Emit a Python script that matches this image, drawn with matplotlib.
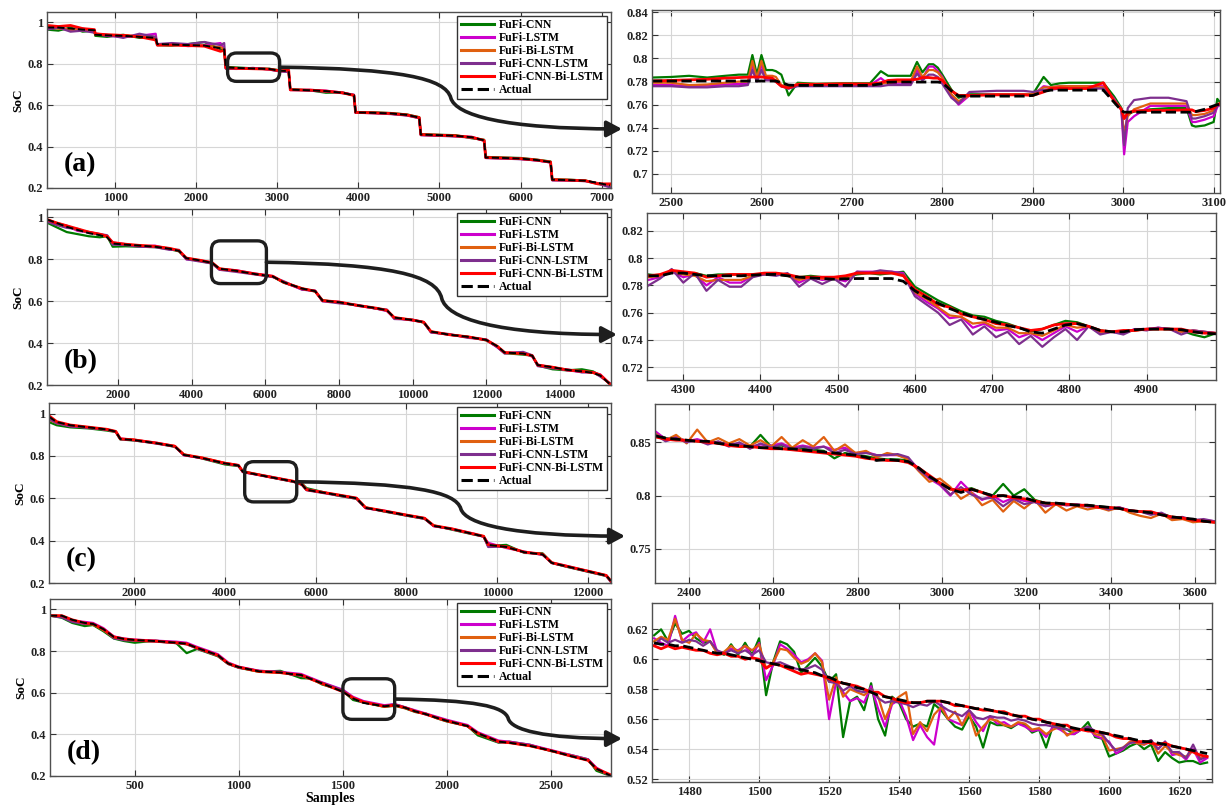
import matplotlib
matplotlib.use('Agg')
import matplotlib.pyplot as plt
from matplotlib.path import Path
from matplotlib.patches import FancyArrowPatch, FancyBboxPatch
from matplotlib.transforms import IdentityTransform
from matplotlib.ticker import FuncFormatter

plt.rcParams['font.family'] = ['Liberation Serif', 'DejaVu Serif']
plt.rcParams['font.weight'] = 'bold'

# ---------------- series names / colours ----------------
series_names = ['FuFi-CNN', 'FuFi-LSTM', 'FuFi-Bi-LSTM', 'FuFi-CNN-LSTM', 'FuFi-CNN-Bi-LSTM']
series_colors = ['#007a00', '#cc00cc', '#e06010', '#7e2f8e', '#ff0000']
panel_labels = ['(a)', '(b)', '(c)', '(d)']

# ================= LEFT PANELS (full range) =================
# (a)
x_a = [160, 300, 450, 600, 745, 755, 900, 1100, 1300, 1500, 1520, 1700, 1900, 2100, 2300, 2345, 2365, 2500, 2700, 2900,
       3000, 3050, 3140, 3160, 3400, 3600, 3800, 3945, 3965, 4200, 4400, 4600, 4750, 4770, 5000, 5200, 5400, 5550, 5570, 5800,
       6000, 6200, 6370, 6390, 6600, 6800, 6950, 7100]
actual_a = [.975, .975, .97, .965, .962, .94, .937, .935, .93, .925, .895, .893, .89, .888, .875, .87, .782, .78, .777, .775,
            .768, .766, .765, .675, .672, .668, .66, .648, .565, .563, .56, .553, .54, .458, .455, .452, .445, .43, .347, .345,
            .342, .335, .325, .24, .238, .235, .225, .212]
cnn_a = [.965, .96, .975, .955, .96, .935, .93, .94, .925, .925, .89, .888, .895, .905, .87, .865, .785, .782, .778, .776,
         .77, .768, .76, .677, .672, .66, .662, .647, .567, .565, .562, .555, .542, .46, .457, .455, .44, .433, .35, .347,
         .345, .337, .328, .242, .24, .236, .22, .21]
lstm_a = [.97, .98, .96, .97, .955, .945, .935, .93, .935, .945, .89, .895, .885, .89, .9, .87, .778, .776, .779, .773,
          .766, .764, .762, .673, .674, .67, .661, .65, .563, .562, .558, .551, .538, .456, .453, .45, .447, .428, .345, .343,
          .34, .333, .323, .238, .237, .234, .223, .205]
bilstm_a = [.975, .97, .965, .96, .96, .94, .94, .938, .932, .93, .895, .892, .89, .888, .88, .872, .779, .779, .777, .774,
            .767, .765, .764, .676, .671, .667, .659, .649, .566, .562, .559, .552, .539, .457, .454, .451, .444, .431, .346, .344,
            .341, .334, .326, .241, .238, .235, .224, .212]
cnnlstm_a = [.965, .975, .955, .96, .95, .945, .94, .925, .945, .93, .895, .9, .895, .905, .89, .9, .776, .775, .78, .772,
             .765, .763, .76, .674, .67, .666, .658, .65, .564, .561, .557, .55, .537, .455, .452, .449, .443, .429, .345, .342,
             .339, .333, .324, .237, .236, .233, .222, .204]
cnnbilstm_a = [.985, .98, .985, .97, .965, .945, .94, .937, .93, .915, .89, .89, .888, .885, .86, .865, .78, .778, .776, .774,
               .768, .766, .77, .674, .673, .668, .66, .647, .565, .563, .56, .553, .54, .458, .455, .452, .445, .43, .347, .345,
               .342, .335, .325, .24, .238, .235, .22, .22]

# (b)
x_b = [65, 300, 600, 900, 1200, 1500, 1700, 1850, 2200, 2600, 3000, 3400, 3650, 3850, 4200, 4550, 4750, 5200, 5700, 6200,
       6500, 7000, 7350, 7550, 8000, 8500, 9000, 9300, 9500, 10000, 10300, 10500, 11000, 11500, 12000, 12300, 12500, 13000,
       13250, 13400, 13800, 14200, 14600, 14900, 15100, 15390]
actual_b = [.99, .975, .955, .94, .925, .915, .905, .875, .87, .865, .86, .85, .84, .805, .795, .783, .755, .745, .73, .718,
            .69, .66, .648, .603, .595, .58, .567, .557, .522, .51, .5, .455, .44, .43, .415, .385, .355, .35, .34, .295,
            .285, .272, .265, .258, .245, .2]
cnn_b = [.975, .955, .93, .92, .91, .905, .91, .86, .862, .86, .858, .848, .838, .803, .793, .78, .752, .745, .73, .717,
         .688, .66, .646, .605, .593, .58, .565, .555, .52, .51, .498, .453, .44, .43, .413, .383, .352, .345, .34, .293,
         .275, .27, .275, .265, .245, .2]
lstm_b = [.985, .97, .96, .935, .93, .92, .91, .88, .872, .862, .865, .848, .842, .8, .795, .785, .752, .748, .732, .72,
          .69, .655, .65, .6, .597, .578, .565, .553, .52, .508, .5, .452, .44, .428, .415, .38, .353, .355, .335, .297,
          .283, .27, .262, .26, .25, .2]
bilstm_b = [.99, .975, .96, .94, .93, .918, .905, .878, .87, .866, .86, .852, .84, .806, .795, .784, .756, .745, .73, .718,
            .69, .66, .648, .603, .595, .58, .566, .556, .522, .51, .5, .455, .44, .43, .415, .385, .355, .35, .34, .295,
            .285, .272, .265, .258, .245, .2]
cnnlstm_b = [.98, .965, .95, .945, .925, .92, .915, .87, .868, .86, .858, .845, .845, .8, .79, .78, .75, .74, .728, .715,
             .695, .655, .65, .6, .59, .582, .565, .56, .515, .512, .5, .45, .443, .425, .418, .38, .35, .358, .342, .29,
             .28, .275, .26, .262, .24, .205]
cnnbilstm_b = [.99, .975, .96, .945, .93, .92, .91, .88, .872, .866, .862, .852, .842, .806, .796, .784, .755, .746, .731, .719,
               .69, .66, .648, .603, .596, .58, .567, .557, .522, .51, .5, .455, .44, .43, .415, .385, .355, .35, .34, .295,
               .285, .272, .265, .26, .248, .2]

# (c)
x_c = [130, 300, 600, 1000, 1400, 1600, 1700, 2000, 2500, 2900, 3100, 3500, 4000, 4300, 4400, 5000, 5500, 5700, 5800, 6500,
       6900, 7100, 7500, 8000, 8400, 8600, 9000, 9500, 9700, 9800, 10200, 10600, 11000, 11200, 11500, 12000, 12400, 12500]
actual_c = [.985, .96, .945, .935, .925, .915, .88, .875, .86, .845, .805, .79, .765, .755, .725, .7, .68, .665, .64, .615,
            .6, .555, .54, .52, .505, .47, .455, .43, .42, .38, .37, .345, .335, .295, .28, .255, .235, .21]
cnn_c = [.96, .945, .935, .93, .92, .913, .878, .873, .86, .843, .807, .788, .76, .752, .727, .7, .678, .67, .648, .612,
         .598, .557, .538, .518, .503, .472, .452, .428, .42, .375, .38, .342, .34, .295, .278, .253, .233, .21]
lstm_c = [.98, .955, .94, .935, .925, .915, .882, .876, .862, .846, .803, .79, .766, .756, .723, .702, .68, .663, .642, .615,
          .601, .553, .542, .52, .506, .468, .456, .432, .418, .39, .365, .348, .333, .296, .282, .256, .236, .21]
bilstm_c = [.97, .955, .945, .935, .925, .916, .88, .877, .86, .847, .805, .792, .767, .756, .726, .701, .681, .664, .64, .616,
            .6, .556, .54, .521, .506, .47, .455, .43, .421, .38, .368, .345, .336, .296, .28, .256, .236, .21]
cnnlstm_c = [.975, .955, .942, .932, .924, .914, .879, .874, .858, .844, .804, .789, .764, .754, .724, .699, .679, .666, .638, .613,
             .598, .554, .539, .519, .503, .469, .454, .429, .419, .37, .372, .344, .334, .294, .279, .254, .234, .205]
cnnbilstm_c = [.99, .962, .946, .936, .926, .916, .881, .876, .861, .846, .806, .791, .766, .756, .726, .701, .681, .666, .641, .616,
               .601, .556, .541, .521, .506, .471, .456, .431, .421, .381, .371, .346, .336, .296, .281, .256, .236, .21]

# (d)
x_d = [93, 150, 200, 260, 300, 350, 400, 450, 500, 600, 700, 750, 800, 900, 950, 1000, 1100, 1200, 1250, 1300,
       1350, 1400, 1500, 1550, 1600, 1700, 1750, 1800, 1850, 1900, 1950, 2000, 2100, 2150, 2250, 2300, 2400, 2500, 2600, 2680,
       2720, 2790]
actual_d = [.97, .97, .95, .935, .93, .905, .868, .858, .853, .848, .84, .835, .815, .78, .74, .723, .702, .697, .69, .685,
            .665, .645, .605, .572, .551, .535, .54, .528, .51, .497, .48, .465, .44, .405, .365, .36, .345, .322, .295, .275,
            .235, .2]
cnn_d = [.97, .96, .935, .92, .925, .895, .86, .848, .84, .85, .838, .79, .81, .775, .738, .72, .7, .705, .688, .67,
         .668, .64, .61, .565, .553, .532, .537, .525, .507, .5, .478, .462, .44, .395, .36, .365, .35, .32, .3, .28,
         .225, .2]
lstm_d = [.97, .965, .945, .94, .935, .91, .87, .86, .855, .85, .845, .84, .82, .785, .745, .725, .705, .7, .695, .69,
          .67, .65, .615, .58, .56, .54, .545, .53, .515, .5, .485, .47, .445, .41, .37, .365, .35, .325, .3, .28,
          .24, .2]
bilstm_d = [.97, .968, .948, .93, .928, .9, .865, .855, .85, .845, .84, .832, .815, .778, .742, .722, .7, .695, .69, .683,
            .663, .643, .61, .575, .555, .533, .54, .527, .51, .497, .48, .465, .44, .405, .365, .36, .345, .322, .297, .277,
            .235, .2]
cnnlstm_d = [.97, .962, .94, .93, .932, .905, .862, .852, .85, .846, .838, .833, .812, .778, .738, .72, .705, .7, .688, .682,
             .665, .648, .612, .573, .553, .536, .545, .53, .512, .495, .482, .467, .44, .405, .362, .362, .348, .322, .295, .278,
             .235, .2]
cnnbilstm_d = [.97, .97, .95, .935, .93, .905, .868, .858, .853, .848, .84, .835, .815, .78, .74, .723, .702, .697, .69, .685,
               .665, .645, .605, .575, .555, .535, .54, .528, .51, .497, .48, .465, .44, .405, .365, .36, .345, .322, .295, .275,
               .235, .205]

# ================= RIGHT PANELS (zoomed) =================
# (a)
x_ar = [2479, 2500, 2520, 2540, 2560, 2575, 2585, 2590, 2595, 2600, 2605, 2612, 2616, 2622, 2630, 2640, 2660, 2690, 2720, 2732,
        2740, 2750, 2765, 2772, 2778, 2785, 2790, 2795, 2800, 2810, 2818, 2830, 2860, 2890, 2900, 2912, 2920, 2930, 2940, 2960,
        2978, 2990, 2998, 3001, 3005, 3012, 3030, 3050, 3070, 3076, 3080, 3090, 3100, 3104, 3107]
actual_ar = [.7805, .7805, .7805, .7805, .7805, .7805, .7805, .7805, .7805, .7805, .7805, .7805, .7805, .779, .777, .7767, .7767, .7767, .7767, .778,
             .7795, .7796, .7796, .7796, .7796, .7796, .7796, .7796, .779, .772, .7675, .7674, .7674, .7674, .768, .7715, .7726, .7726, .7726, .7726,
             .7726, .762, .755, .7535, .7535, .7535, .7535, .7535, .7535, .7535, .754, .756, .759, .760, .7605]
cnn_ar = [.7835, .784, .785, .7835, .785, .786, .786, .803, .786, .803, .790, .790, .789, .786, .768, .779, .778, .7785, .7785, .789,
          .785, .785, .785, .797, .788, .795, .795, .792, .786, .773, .766, .769, .769, .769, .769, .784, .777, .7785, .779, .779,
          .779, .767, .757, .748, .752, .754, .756, .757, .757, .742, .741, .742, .745, .765, .762]
lstm_ar = [.777, .777, .776, .7765, .7775, .778, .778, .795, .781, .795, .782, .782, .781, .776, .774, .777, .777, .777, .777, .783,
           .778, .779, .779, .790, .782, .793, .793, .789, .784, .768, .760, .768, .769, .769, .768, .776, .775, .776, .776, .776,
           .776, .765, .755, .717, .745, .750, .759, .759, .759, .745, .745, .747, .750, .758, .760]
bilstm_ar = [.779, .779, .777, .7775, .779, .780, .780, .798, .783, .798, .785, .785, .784, .777, .775, .778, .778, .778, .778, .778,
             .779, .780, .780, .793, .784, .790, .790, .788, .783, .769, .763, .768, .769, .769, .769, .775, .775, .776, .776, .776,
             .775, .764, .756, .735, .750, .756, .761, .761, .761, .751, .751, .752, .755, .760, .761]
cnnlstm_ar = [.776, .776, .775, .775, .776, .776, .777, .790, .780, .790, .781, .781, .780, .776, .774, .776, .776, .776, .776, .776,
              .777, .777, .777, .787, .781, .786, .786, .784, .778, .766, .761, .771, .772, .772, .771, .773, .773, .774, .774, .774,
              .774, .764, .756, .725, .757, .764, .766, .766, .763, .748, .748, .750, .753, .759, .760]
cnnbilstm_ar = [.7806, .781, .7815, .782, .783, .7835, .7838, .784, .784, .784, .7835, .783, .780, .776, .7745, .7775, .7775, .778, .7778, .779,
                .781, .7815, .7815, .782, .7835, .7835, .783, .783, .781, .772, .768, .768, .7685, .7685, .768, .771, .774, .7745, .774, .774,
                .779, .763, .756, .748, .753, .7545, .755, .755, .7555, .7555, .754, .755, .757, .760, .761]

# (b)
x_br = [4255, 4270, 4285, 4300, 4315, 4330, 4345, 4360, 4375, 4390, 4405, 4420, 4435, 4450, 4465, 4480, 4495, 4510, 4525, 4540,
        4555, 4570, 4585, 4600, 4615, 4630, 4645, 4660, 4675, 4690, 4705, 4720, 4735, 4750, 4765, 4780, 4795, 4810, 4825, 4840,
        4855, 4870, 4885, 4900, 4915, 4930, 4945, 4960, 4975, 4990]
actual_br = [.787, .787, .789, .789, .788, .787, .787, .787, .787, .7875, .788, .788, .787, .786, .7855, .785, .7845, .7848, .785, .785,
             .785, .785, .783, .776, .771, .767, .763, .760, .757, .755, .753, .7505, .749, .746, .745, .748, .751, .752, .750, .747,
             .746, .746, .7475, .748, .748, .748, .7475, .746, .745, .7445]
cnn_br = [.788, .787, .790, .789, .789, .787, .788, .788, .788, .787, .788, .789, .787, .786, .787, .786, .785, .786, .788, .789,
          .788, .789, .790, .779, .774, .769, .765, .761, .758, .757, .754, .752, .749, .746, .748, .751, .754, .753, .750, .747,
          .746, .746, .747, .748, .748, .748, .747, .744, .742, .745]
lstm_br = [.784, .786, .790, .786, .788, .780, .786, .782, .782, .787, .789, .788, .788, .782, .786, .784, .785, .783, .790, .790,
           .790, .790, .789, .774, .768, .763, .756, .757, .749, .752, .747, .748, .742, .745, .740, .745, .750, .746, .750, .745,
           .746, .745, .748, .748, .749, .748, .746, .747, .746, .745]
bilstm_br = [.786, .787, .790, .788, .787, .783, .784, .784, .784, .787, .788, .788, .787, .784, .786, .785, .785, .785, .789, .789,
             .790, .789, .788, .775, .770, .764, .758, .757, .752, .753, .749, .749, .745, .745, .743, .747, .751, .749, .750, .746,
             .746, .746, .747, .748, .748, .748, .746, .747, .746, .745]
cnnlstm_br = [.780, .785, .792, .782, .789, .776, .784, .779, .779, .786, .788, .787, .789, .779, .785, .781, .785, .779, .790, .789,
              .791, .790, .788, .772, .766, .760, .751, .755, .744, .750, .742, .746, .737, .743, .735, .742, .748, .740, .750, .744,
              .746, .744, .748, .747, .749, .748, .744, .747, .746, .745]
cnnbilstm_br = [.787, .788, .791, .790, .789, .786, .787, .788, .788, .788, .789, .789, .788, .786, .786, .786, .786, .787, .789, .789,
                .789, .789, .787, .777, .772, .766, .764, .759, .757, .755, .752, .751, .749, .747, .748, .751, .752, .752, .750, .747,
                .746, .747, .747, .748, .748, .748, .748, .746, .745, .745]

# (c)
x_cr = [2322, 2345, 2370, 2395, 2420, 2445, 2470, 2495, 2520, 2545, 2570, 2595, 2620, 2645, 2670, 2695, 2720, 2745, 2770, 2795,
        2820, 2845, 2870, 2895, 2920, 2945, 2970, 2995, 3020, 3045, 3070, 3095, 3120, 3145, 3170, 3195, 3220, 3245, 3270, 3295,
        3320, 3345, 3370, 3395, 3420, 3445, 3470, 3495, 3520, 3545, 3570, 3595, 3620, 3645]
actual_cr = [.856, .854, .853, .852, .851, .851, .849, .848, .847, .846, .845, .845, .844, .844, .843, .842, .841, .840, .839, .838,
             .836, .833, .834, .833, .832, .826, .818, .812, .806, .803, .806, .803, .800, .800, .799, .798, .795, .793, .793, .792,
             .791, .791, .790, .789, .788, .786, .785, .784, .782, .780, .779, .778, .776, .775]
cnn_cr = [.858, .854, .853, .852, .851, .850, .850, .848, .848, .846, .857, .846, .847, .844, .844, .843, .842, .835, .840, .838,
          .837, .835, .834, .834, .833, .825, .818, .812, .806, .805, .807, .803, .800, .811, .800, .806, .796, .793, .793, .792,
          .791, .791, .790, .789, .788, .786, .785, .784, .783, .780, .779, .777, .776, .775]
lstm_cr = [.860, .853, .855, .851, .853, .850, .850, .848, .849, .846, .848, .847, .849, .845, .847, .845, .846, .843, .845, .840,
           .841, .838, .838, .838, .835, .825, .816, .810, .800, .813, .803, .796, .800, .794, .798, .795, .794, .790, .792, .791,
           .791, .790, .789, .787, .789, .786, .785, .784, .783, .779, .779, .777, .777, .776]
bilstm_cr = [.858, .852, .857, .849, .862, .850, .854, .849, .853, .847, .852, .846, .855, .845, .852, .846, .855, .842, .848, .840,
             .842, .836, .840, .838, .834, .823, .813, .816, .808, .797, .803, .791, .796, .785, .795, .788, .796, .784, .792, .786,
             .790, .787, .789, .786, .789, .784, .781, .779, .783, .777, .778, .775, .776, .775]
cnnlstm_cr = [.857, .851, .854, .850, .852, .848, .851, .846, .850, .844, .849, .845, .848, .843, .846, .844, .846, .840, .843, .839,
              .840, .838, .838, .839, .836, .824, .817, .811, .801, .808, .801, .797, .798, .790, .797, .792, .794, .790, .793, .791,
              .792, .790, .790, .787, .789, .786, .785, .782, .784, .779, .780, .777, .778, .776]
cnnbilstm_cr = [.855, .853, .852, .852, .851, .850, .849, .847, .846, .846, .845, .844, .844, .843, .842, .841, .840, .839, .838, .837,
                .835, .834, .833, .833, .831, .826, .819, .812, .806, .805, .806, .803, .799, .800, .798, .797, .795, .793, .792, .792,
                .791, .791, .789, .789, .788, .786, .785, .785, .782, .780, .779, .777, .776, .775]

# (d)
x_dr = [1470, 1472, 1474, 1476, 1478, 1480, 1482, 1484, 1486, 1488, 1490, 1492, 1494, 1496, 1498, 1500, 1502, 1504, 1506, 1508,
        1510, 1512, 1514, 1516, 1518, 1520, 1522, 1524, 1526, 1528, 1530, 1532, 1534, 1536, 1538, 1540, 1542, 1544, 1546, 1548,
        1550, 1552, 1554, 1556, 1558, 1560, 1562, 1564, 1566, 1568, 1570, 1572, 1574, 1576, 1578, 1580, 1582, 1584, 1586, 1588,
        1590, 1592, 1594, 1596, 1598, 1600, 1602, 1604, 1606, 1608, 1610, 1612, 1614, 1616, 1618, 1620, 1622, 1624, 1626, 1628]
actual_dr = [.611, .610, .610, .609, .609, .608, .607, .606, .605, .604, .604, .603, .602, .601, .600, .599, .598, .597, .596, .595,
             .594, .593, .592, .591, .589, .588, .586, .584, .583, .581, .580, .578, .576, .575, .574, .573, .572, .571, .571, .572,
             .572, .572, .571, .570, .569, .568, .567, .567, .566, .565, .564, .563, .562, .561, .560, .559, .558, .557, .556, .555,
             .554, .553, .553, .552, .551, .550, .549, .548, .547, .546, .545, .545, .544, .543, .542, .541, .540, .539, .538, .537]
cnn_dr = [.616, .620, .612, .624, .617, .619, .614, .611, .612, .605, .603, .610, .603, .611, .603, .614, .576, .598, .612, .610,
          .605, .591, .596, .601, .595, .585, .590, .548, .572, .575, .566, .584, .560, .549, .575, .571, .560, .555, .557, .555,
          .570, .566, .560, .555, .553, .562, .555, .541, .558, .556, .556, .554, .557, .556, .551, .553, .541, .556, .555, .553,
          .550, .553, .558, .548, .547, .535, .537, .539, .542, .544, .540, .543, .532, .538, .534, .531, .532, .532, .530, .531]
lstm_dr = [.614, .611, .609, .629, .612, .616, .618, .611, .620, .605, .604, .607, .606, .609, .602, .611, .586, .596, .610, .607,
           .603, .598, .600, .604, .599, .560, .585, .578, .572, .574, .571, .582, .567, .555, .570, .573, .562, .546, .556, .548,
           .543, .570, .560, .558, .556, .566, .558, .552, .562, .557, .558, .555, .557, .555, .552, .553, .548, .555, .553, .550,
           .550, .553, .554, .549, .547, .545, .537, .540, .545, .544, .543, .545, .540, .545, .536, .537, .533, .540, .531, .534]
bilstm_dr = [.612, .615, .613, .627, .613, .611, .617, .613, .612, .604, .605, .609, .605, .609, .606, .610, .594, .598, .607, .606,
             .601, .597, .599, .604, .598, .573, .588, .575, .580, .578, .576, .580, .575, .560, .571, .575, .578, .550, .558, .552,
             .563, .568, .560, .565, .556, .564, .549, .555, .560, .559, .556, .555, .558, .557, .553, .554, .550, .553, .555, .549,
             .552, .553, .555, .550, .549, .539, .540, .541, .545, .544, .543, .546, .537, .542, .538, .536, .535, .539, .534, .535]
cnnlstm_dr = [.609, .614, .611, .613, .611, .613, .612, .609, .612, .606, .604, .606, .604, .606, .603, .606, .598, .597, .598, .596,
              .594, .593, .594, .596, .593, .585, .584, .579, .582, .579, .578, .580, .574, .571, .572, .571, .570, .568, .570, .569,
              .572, .569, .566, .564, .562, .566, .561, .560, .562, .561, .561, .559, .560, .559, .557, .556, .556, .555, .554, .553,
              .553, .553, .555, .552, .550, .544, .539, .541, .544, .545, .544, .546, .540, .545, .538, .538, .534, .543, .533, .535]
cnnbilstm_dr = [.609, .607, .609, .607, .608, .607, .606, .606, .604, .603, .604, .602, .602, .600, .601, .600, .594, .597, .596, .594,
                .592, .590, .591, .590, .589, .587, .585, .584, .583, .582, .580, .578, .578, .575, .574, .572, .571, .571, .571, .572,
                .572, .572, .571, .569, .569, .568, .567, .566, .566, .565, .565, .563, .562, .562, .560, .560, .558, .557, .556, .556,
                .553, .553, .552, .552, .551, .550, .548, .547, .547, .545, .545, .544, .543, .544, .542, .541, .540, .538, .536, .535]

# ---------------- axes ranges / ticks ----------------
left_xlim = [(160, 7115), (65, 15390), (130, 12505), (93, 2790)]
left_xticks = [[1000, 2000, 3000, 4000, 5000, 6000, 7000],
               [2000, 4000, 6000, 8000, 10000, 12000, 14000],
               [2000, 4000, 6000, 8000, 10000, 12000],
               [500, 1000, 1500, 2000, 2500]]
left_ylim = [(0.2, 1.05), (0.2, 1.04), (0.2, 1.05), (0.2, 1.05)]
left_yticks = [0.2, 0.4, 0.6, 0.8, 1.0]

right_xlim = [(2479, 3107), (4253, 4990), (2320, 3647), (1469.4, 1629.4)]
right_ylim = [(0.6835, 0.842), (0.7107, 0.833), (0.718, 0.886), (0.518, 0.6376)]
right_xticks = [[2500, 2600, 2700, 2800, 2900, 3000, 3100],
                [4300, 4400, 4500, 4600, 4700, 4800, 4900],
                [2400, 2600, 2800, 3000, 3200, 3400, 3600],
                [1480, 1500, 1520, 1540, 1560, 1580, 1600, 1620]]
right_yticks = [[0.7, 0.72, 0.74, 0.76, 0.78, 0.8, 0.82, 0.84],
                [0.72, 0.74, 0.76, 0.78, 0.8, 0.82],
                [0.75, 0.8, 0.85],
                [0.52, 0.54, 0.56, 0.58, 0.6, 0.62]]

# zoom boxes (data coords of left panels) and arrow targets (data y of right panels)
zoom_box_x = [(2387, 3029), (4533, 6027), (4439, 5585), (1501, 1750)]
zoom_box_y = [(0.715, 0.852), (0.684, 0.888), (0.583, 0.773), (0.472, 0.667)]
arrow_target_y = [0.739, 0.744, 0.762, 0.547]

left_data = [
    (x_a, [cnn_a, lstm_a, bilstm_a, cnnlstm_a, cnnbilstm_a], actual_a),
    (x_b, [cnn_b, lstm_b, bilstm_b, cnnlstm_b, cnnbilstm_b], actual_b),
    (x_c, [cnn_c, lstm_c, bilstm_c, cnnlstm_c, cnnbilstm_c], actual_c),
    (x_d, [cnn_d, lstm_d, bilstm_d, cnnlstm_d, cnnbilstm_d], actual_d),
]
right_data = [
    (x_ar, [cnn_ar, lstm_ar, bilstm_ar, cnnlstm_ar, cnnbilstm_ar], actual_ar),
    (x_br, [cnn_br, lstm_br, bilstm_br, cnnlstm_br, cnnbilstm_br], actual_br),
    (x_cr, [cnn_cr, lstm_cr, bilstm_cr, cnnlstm_cr, cnnbilstm_cr], actual_cr),
    (x_dr, [cnn_dr, lstm_dr, bilstm_dr, cnnlstm_dr, cnnbilstm_dr], actual_dr),
]

# ---------------- layout (pixels) ----------------
W, H, DPI = 1231, 809, 100
left_px = [(47, 12, 611, 188), (47, 209, 611, 385), (49, 403, 611, 583), (50, 599, 611, 776)]
right_px = [(652, 10, 1220, 193), (647, 213, 1216, 380), (655, 404, 1215, 583), (652, 603, 1212, 782)]

fig = plt.figure(figsize=(W / DPI, H / DPI), dpi=DPI)
fmt = FuncFormatter(lambda v, p: f'{v:g}')


def add_ax(px):
    x0, y0, x1, y1 = px
    return fig.add_axes([x0 / W, 1 - y1 / H, (x1 - x0) / W, (y1 - y0) / H])


def style(ax, xlim, ylim, xticks, yticks):
    ax.set_xlim(*xlim)
    ax.set_ylim(*ylim)
    ax.set_xticks(xticks)
    ax.set_yticks(yticks)
    ax.xaxis.set_major_formatter(fmt)
    ax.yaxis.set_major_formatter(fmt)
    ax.tick_params(direction='in', top=True, right=True, length=4, width=0.8,
                   labelsize=9, pad=3, color='#333333', labelcolor='#222222')
    ax.grid(True, color='#d6d6d6', lw=0.8)
    ax.set_axisbelow(True)
    for s in ax.spines.values():
        s.set_color('#505050')
        s.set_linewidth(1.0)


def draw(ax, x, preds, actual, lw, lw_actual):
    for y, name, c in zip(preds, series_names, series_colors):
        ax.plot(x, y, color=c, lw=lw if c != '#ff0000' else lw + 0.4, label=name)
    ax.plot(x, actual, color='black', ls='--', lw=lw_actual, label='Actual')


left_axes, right_axes = [], []
for i in range(4):
    axl = add_ax(left_px[i])
    x, preds, actual = left_data[i]
    draw(axl, x, preds, actual, 1.6, 1.4)
    style(axl, left_xlim[i], left_ylim[i], left_xticks[i], left_yticks)
    axl.set_ylabel('SoC', fontsize=9.5, fontweight='bold', labelpad=2)
    leg = axl.legend(loc='upper right', fontsize=8.5, frameon=True, fancybox=False,
                     edgecolor='#333333', framealpha=1, handlelength=2.8,
                     handletextpad=0.4, labelspacing=0.08, borderpad=0.3,
                     borderaxespad=0.3)
    leg.get_frame().set_linewidth(1.0)
    for line in leg.get_lines():
        line.set_linewidth(2.2)
    axl.text(0.03, 0.06, panel_labels[i], transform=axl.transAxes,
             fontsize=20, fontweight='bold', ha='left', va='bottom')
    left_axes.append(axl)

    axr = add_ax(right_px[i])
    x, preds, actual = right_data[i]
    draw(axr, x, preds, actual, 1.6, 2.0)
    style(axr, right_xlim[i], right_ylim[i], right_xticks[i], right_yticks[i])
    right_axes.append(axr)

left_axes[-1].set_xlabel('Samples', fontsize=10, fontweight='bold', labelpad=0)

# ---------------- zoom boxes and connecting arrows ----------------
for i in range(4):
    axl, axr = left_axes[i], right_axes[i]
    p0 = axl.transData.transform((zoom_box_x[i][0], zoom_box_y[i][0]))
    p1 = axl.transData.transform((zoom_box_x[i][1], zoom_box_y[i][1]))
    box = FancyBboxPatch((p0[0], p0[1]), p1[0] - p0[0], p1[1] - p0[1],
                         boxstyle='round,pad=0,rounding_size=9',
                         transform=IdentityTransform(), fill=False,
                         lw=2.4, ec='#1e1e1e', zorder=20)
    fig.add_artist(box)

    sx, sy = p1[0], (p0[1] + p1[1]) / 2
    ex = axr.transAxes.transform((0, 0))[0] - 30
    ey = axr.transData.transform((right_xlim[i][0], arrow_target_y[i]))[1]
    kx, ky = sx + 0.5 * (ex - sx), sy + 0.5 * (ey - sy)
    dxk, dyk = kx - sx, ky - sy
    dxe, dye = ex - kx, ey - ky
    verts = [(sx, sy),
             (sx + 0.7 * dxk, sy + 0.05 * dyk), (kx - 0.03 * dxk, sy + 0.35 * dyk), (kx, ky),
             (kx + 0.03 * dxe, ky + 0.55 * dye), (kx + 0.3 * dxe, ey), (ex, ey)]
    codes = [Path.MOVETO] + [Path.CURVE4] * 6
    arr = FancyArrowPatch(path=Path(verts, codes),
                          arrowstyle='-|>,head_length=0.6,head_width=0.32',
                          mutation_scale=15, lw=2.6, color='#1e1e1e',
                          transform=IdentityTransform(), zorder=20)
    fig.add_artist(arr)

fig.savefig('out.png', dpi=DPI)
